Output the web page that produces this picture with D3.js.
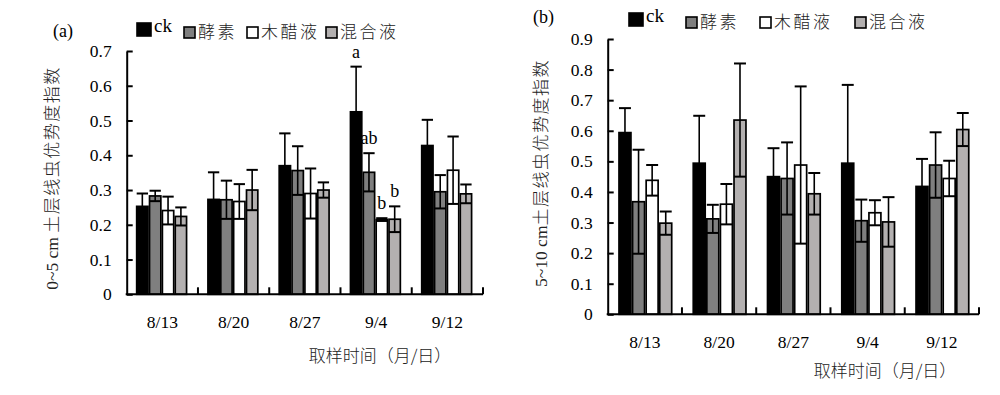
<!DOCTYPE html>
<html>
<head>
<meta charset="utf-8">
<script src="https://cdn.jsdelivr.net/npm/d3@7"></script>
<style>
  body { margin: 0; background: #fff; }
  svg { display: block; }
</style>
</head>
<body>
<svg id="chart"></svg>
<script>
// categories
const dates      = ['8/13', '8/20', '8/27', '9/4', '9/12'];
const treatments = ['ck', '酵素', '木醋液', '混合液'];

// (a) 0~5 cm, means and sd per treatment
const ckA    = [0.253, 0.273, 0.370, 0.525, 0.428];
const enzA   = [0.283, 0.272, 0.356, 0.351, 0.295];
const vinA   = [0.241, 0.267, 0.290, 0.215, 0.357];
const mixA   = [0.224, 0.300, 0.300, 0.216, 0.289];
const ckAsd  = [0.037, 0.078, 0.093, 0.130, 0.074];
const enzAsd = [0.015, 0.055, 0.070, 0.055, 0.048];
const vinAsd = [0.040, 0.050, 0.072, 0.004, 0.097];
const mixAsd = [0.026, 0.058, 0.022, 0.037, 0.027];
// significance letters on 9/4
const lettersA = ['a', 'ab', 'b', 'b'];

// (b) 5~10 cm
const ckB    = [0.594, 0.494, 0.450, 0.494, 0.418];
const enzB   = [0.368, 0.312, 0.444, 0.306, 0.488];
const vinB   = [0.438, 0.360, 0.488, 0.332, 0.444];
const mixB   = [0.298, 0.635, 0.394, 0.302, 0.604];
const ckBsd  = [0.080, 0.155, 0.093, 0.256, 0.090];
const enzBsd = [0.170, 0.046, 0.118, 0.069, 0.107];
const vinBsd = [0.050, 0.066, 0.257, 0.041, 0.058];
const mixBsd = [0.038, 0.185, 0.068, 0.081, 0.054];

// tick labels
const yTicksA = ['0', '0.1', '0.2', '0.3', '0.4', '0.5', '0.6', '0.7'];
const yTicksB = ['0', '0.1', '0.2', '0.3', '0.4', '0.5', '0.6', '0.7', '0.8', '0.9'];

const fills = ['#000000', '#7f7f7f', '#ffffff', '#b3b0b0'];
const serif = '"Liberation Serif", "Times New Roman", serif';
const cjk   = '"Noto Sans CJK SC", sans-serif';

const svg = d3.select('#chart')
    .attr('width', 1000)
    .attr('height', 395);

svg.append('rect').attr('width', 1000).attr('height', 395).attr('fill', '#fff');

function drawPanel(cfg) {
  let x  = d3.scaleBand().domain(dates).range([cfg.left, cfg.right]),
      x1 = d3.scaleBand().domain(treatments)
             .range([0, x.bandwidth() * cfg.groupFrac])
             .paddingInner(0.12),
      off = x.bandwidth() * cfg.groupOff,
      y  = d3.scaleLinear().domain([0, cfg.max]).range([cfg.bottom, cfg.top]);

  let rows = [];
  treatments.forEach((t, i) => dates.forEach((d, j) => {
    rows.push({ t: t, d: d, i: i, v: cfg.means[i][j], sd: cfg.sds[i][j] });
  }));

  let g = svg.append('g');
  let bx = r => x(r.d) + off + x1(r.t);

  // bars
  g.selectAll('rect.bar')
    .data(rows)
    .enter()
    .append('rect')
      .attr('class', 'bar')
      .attr('x', bx)
      .attr('y', r => y(r.v))
      .attr('width', x1.bandwidth())
      .attr('height', r => y(0) - y(r.v))
      .attr('fill', r => fills[r.i])
      .attr('stroke', '#000')
      .attr('stroke-width', 1.7);

  // error bars
  let eb = g.selectAll('g.err')
    .data(rows)
    .enter()
    .append('g')
      .attr('stroke', '#000');
  eb.append('line')
      .attr('x1', r => bx(r) + x1.bandwidth() / 2)
      .attr('x2', r => bx(r) + x1.bandwidth() / 2)
      .attr('y1', r => y(Math.max(0, r.v - r.sd)))
      .attr('y2', r => y(r.v + r.sd))
      .attr('stroke-width', 1.6);
  eb.append('line')
      .attr('x1', r => bx(r))
      .attr('x2', r => bx(r) + x1.bandwidth())
      .attr('y1', r => y(r.v + r.sd))
      .attr('y2', r => y(r.v + r.sd))
      .attr('stroke-width', 2);
  eb.append('line')
      .attr('x1', r => bx(r))
      .attr('x2', r => bx(r) + x1.bandwidth())
      .attr('y1', r => y(Math.max(0, r.v - r.sd)))
      .attr('y2', r => y(Math.max(0, r.v - r.sd)))
      .attr('stroke-width', 2);

  // significance letters
  if (cfg.letters) {
    let j = dates.indexOf(cfg.letterDate);
    g.selectAll('text.sig')
      .data(cfg.letters)
      .enter()
      .append('text')
        .attr('x', (l, i) => x(cfg.letterDate) + off + x1(treatments[i]) + x1.bandwidth() / 2)
        .attr('y', (l, i) => y(cfg.means[i][j] + cfg.sds[i][j]) - 9)
        .attr('text-anchor', 'middle')
        .attr('font-family', serif)
        .attr('font-size', 18)
        .text(l => l);
  }

  // y axis
  let yAxis = d3.axisLeft(y)
      .tickValues(cfg.ticks.map((t, i) => i / 10))
      .tickFormat((d, i) => cfg.ticks[i])
      .tickSizeInner(-6)
      .tickSizeOuter(0)
      .tickPadding(15);
  let ya = svg.append('g')
      .attr('transform', `translate(${cfg.left}, 0)`)
      .call(yAxis);
  ya.selectAll('path, line').attr('stroke', '#000').attr('stroke-width', 2);
  ya.selectAll('text')
      .attr('font-family', serif)
      .attr('font-size', 17.5)
      .attr('fill', '#000');

  // x axis line and category ticks
  svg.append('line')
      .attr('x1', cfg.left - 1).attr('x2', cfg.right)
      .attr('y1', y(0)).attr('y2', y(0))
      .attr('stroke', '#000').attr('stroke-width', 2);
  svg.selectAll(null)
    .data(dates)
    .enter()
    .append('line')
      .attr('x1', d => x(d) + x.step())
      .attr('x2', d => x(d) + x.step())
      .attr('y1', y(0))
      .attr('y2', y(0) - 7)
      .attr('stroke', '#000').attr('stroke-width', 2);
  svg.selectAll(null)
    .data(dates)
    .enter()
    .append('text')
      .attr('x', d => x(d) + x.bandwidth() / 2)
      .attr('y', cfg.catY)
      .attr('text-anchor', 'middle')
      .attr('font-family', serif)
      .attr('font-size', 17.5)
      .text(d => d);

  // y title
  let yt = svg.append('text')
      .attr('transform', `translate(${cfg.ytX}, ${cfg.ytY}) rotate(-90)`)
      .attr('text-anchor', 'middle')
      .attr('fill', '#222');
  yt.append('tspan').attr('font-family', serif).attr('font-size', 17.5).text(cfg.ytPre);
  yt.append('tspan').attr('font-family', cjk).attr('font-size', 17).attr('font-weight', 300)
    .attr('letter-spacing', 1.5).text('土层线虫优势度指数');

  // x title
  svg.append('text')
      .attr('x', cfg.xtX)
      .attr('y', cfg.xtY)
      .attr('text-anchor', 'middle')
      .attr('font-family', cjk)
      .attr('font-size', 17)
      .attr('font-weight', 300)
      .attr('fill', '#222')
      .text('取样时间（月/日）');

  // panel label
  svg.append('text')
      .attr('x', cfg.labX)
      .attr('y', cfg.labY)
      .attr('font-family', serif)
      .attr('font-size', 18)
      .text(cfg.label);

  // legend
  let lg = svg.append('g').selectAll('g')
    .data(treatments)
    .enter()
    .append('g')
      .attr('transform', (t, i) => `translate(${cfg.legX[i]}, ${cfg.legY})`);
  lg.append('rect')
      .attr('x', 0)
      .attr('y', (t, i) => i === 0 ? -14 : -10)
      .attr('width', (t, i) => i === 0 ? 14 : 11)
      .attr('height', (t, i) => i === 0 ? 13 : 11)
      .attr('fill', (t, i) => fills[i])
      .attr('stroke', '#000')
      .attr('stroke-width', 1.6);
  lg.append('text')
      .attr('x', (t, i) => i === 0 ? 17 : 14)
      .attr('y', (t, i) => i === 0 ? -5 : 1)
      .attr('font-family', (t, i) => i === 0 ? serif : cjk)
      .attr('font-size', (t, i) => i === 0 ? 19 : 17)
      .attr('font-weight', (t, i) => i === 0 ? 400 : 300)
      .attr('letter-spacing', (t, i) => i === 0 ? 0 : 2.5)
      .attr('fill', (t, i) => i === 0 ? '#000' : '#222')
      .text(t => t);
}

drawPanel({
  left: 126.7, right: 483, top: 51, bottom: 294.3, max: 0.7,
  groupFrac: 0.70, groupOff: 0.14,
  means: [ckA, enzA, vinA, mixA],
  sds: [ckAsd, enzAsd, vinAsd, mixAsd],
  letters: lettersA, letterDate: '9/4',
  ticks: yTicksA,
  catY: 328,
  ytX: 58, ytY: 178, ytPre: '0~5 cm ',
  xtX: 380, xtY: 362,
  label: '(a)', labX: 53, labY: 37,
  legX: [137, 184, 247, 326], legY: 37
});

drawPanel({
  left: 607.7, right: 979, top: 39, bottom: 314.3, max: 0.9,
  groupFrac: 0.71, groupOff: 0.152,
  means: [ckB, enzB, vinB, mixB],
  sds: [ckBsd, enzBsd, vinBsd, mixBsd],
  ticks: yTicksB,
  catY: 348,
  ytX: 547, ytY: 173, ytPre: '5~10 cm',
  xtX: 885, xtY: 377,
  label: '(b)', labX: 533, labY: 23,
  legX: [629, 686, 760, 855], legY: 27
});
</script>
</body>
</html>
